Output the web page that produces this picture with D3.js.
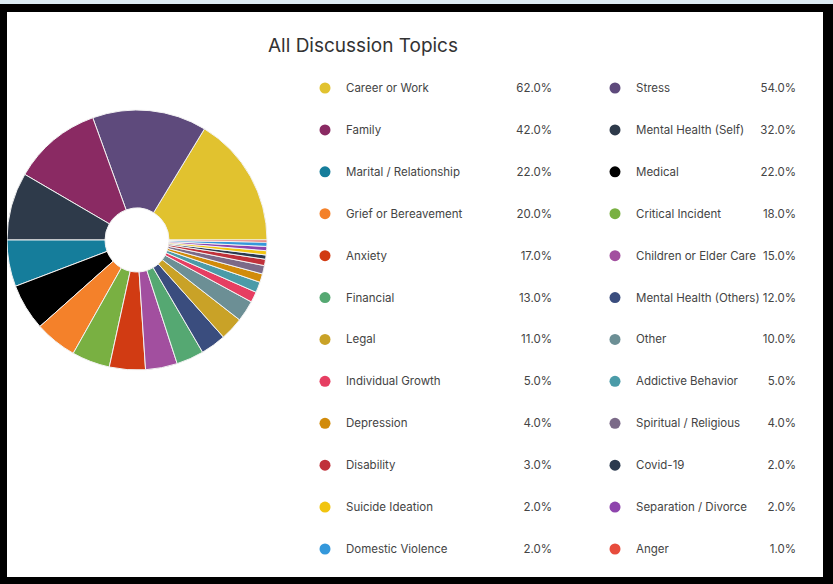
<!DOCTYPE html>
<html>
<head>
<meta charset="utf-8">
<script src="https://cdn.jsdelivr.net/npm/d3@7"></script>
<style>
  body { margin: 0; background: #fff; }
  text { font-family: "Inter", "Noto Sans", sans-serif; }
</style>
</head>
<body>
<script>
var topics = ["Career or Work", "Stress", "Family", "Mental Health (Self)", "Marital / Relationship",
    "Medical", "Grief or Bereavement", "Critical Incident", "Anxiety", "Children or Elder Care",
    "Financial", "Mental Health (Others)", "Legal", "Other", "Individual Growth", "Addictive Behavior",
    "Depression", "Spiritual / Religious", "Disability", "Covid-19", "Suicide Ideation",
    "Separation / Divorce", "Domestic Violence", "Anger"];
var percents = [62, 54, 42, 32, 22, 22, 20, 18, 17, 15, 13, 12, 11, 10, 5, 5, 4, 4, 3, 2, 2, 2, 2, 1];
var colors = ["#e1c22f", "#5e4a7c", "#8a2a63", "#2e3a4a", "#157d9b", "#000000", "#f4812a", "#79b042",
    "#d13b13", "#a24f9f", "#55a872", "#3a4d7e", "#c9a227", "#6c8f95", "#e63e62", "#4a9ba8",
    "#d18b0a", "#7b6a88", "#c0313a", "#2b3a4f", "#f1c40f", "#8e44ad", "#3498db", "#e74c3c"];

var width = 833, height = 584;

var data = topics.map(function (t, i) {
    return {name: t, value: percents[i], color: colors[i]};
});

var svg = d3.select("body")
    .append("svg")
    .attr("width", width)
    .attr("height", height);

svg.append("rect")
    .attr("width", width)
    .attr("height", height)
    .attr("fill", "#fff");

// pie, counter clockwise from 3 o'clock
var pie = d3.pie()
    .sort(null)
    .value(function (d) { return d.value; })
    .startAngle(Math.PI / 2)
    .endAngle(Math.PI / 2 - 2 * Math.PI);

var arc = d3.arc()
    .innerRadius(32)
    .outerRadius(130);

var g = svg.append("g")
    .attr("transform", "translate(137,240)");

g.selectAll("path")
    .data(pie(data))
    .enter()
    .append("path")
    .attr("d", arc)
    .attr("fill", function (d) { return d.data.color; })
    .attr("stroke", "#f2f2f2")
    .attr("stroke-width", 1);

// title
svg.append("text")
    .attr("x", 268)
    .attr("y", 52)
    .attr("font-size", 19)
    .attr("fill", "#333")
    .text("All Discussion Topics");

// legend, two columns
var col = d3.scaleOrdinal().domain([0, 1]).range([325, 615]);
var valRight = d3.scaleOrdinal().domain([0, 1]).range([552, 796]);
var row = d3.scaleLinear().domain([0, 11]).range([88, 549]);

var items = svg.selectAll(".legend")
    .data(data)
    .enter()
    .append("g")
    .attr("class", "legend")
    .attr("transform", function (d, i) {
        return "translate(0," + row(Math.floor(i / 2)) + ")";
    });

items.append("circle")
    .attr("cx", function (d, i) { return col(i % 2); })
    .attr("cy", 0)
    .attr("r", 5.5)
    .attr("fill", function (d) { return d.color; });

items.append("text")
    .attr("x", function (d, i) { return col(i % 2) + 21; })
    .attr("y", 4)
    .attr("font-size", 11.5)
    .attr("fill", "#444")
    .text(function (d) { return d.name; });

items.append("text")
    .attr("x", function (d, i) { return valRight(i % 2); })
    .attr("y", 4)
    .attr("text-anchor", "end")
    .attr("font-size", 11.5)
    .attr("fill", "#444")
    .text(function (d) { return d.value.toFixed(1) + "%"; });

// frame drawn on top, it clips the pie on the left
svg.append("rect").attr("x", 0).attr("y", 0).attr("width", width).attr("height", 4).attr("fill", "#dcebf3");
svg.append("rect").attr("x", 0).attr("y", 4).attr("width", width).attr("height", 8).attr("fill", "#000");
svg.append("rect").attr("x", 0).attr("y", 4).attr("width", 7).attr("height", height).attr("fill", "#000");
svg.append("rect").attr("x", 823).attr("y", 4).attr("width", 10).attr("height", height).attr("fill", "#000");
svg.append("rect").attr("x", 0).attr("y", 577).attr("width", width).attr("height", 7).attr("fill", "#000");
</script>
</body>
</html>
